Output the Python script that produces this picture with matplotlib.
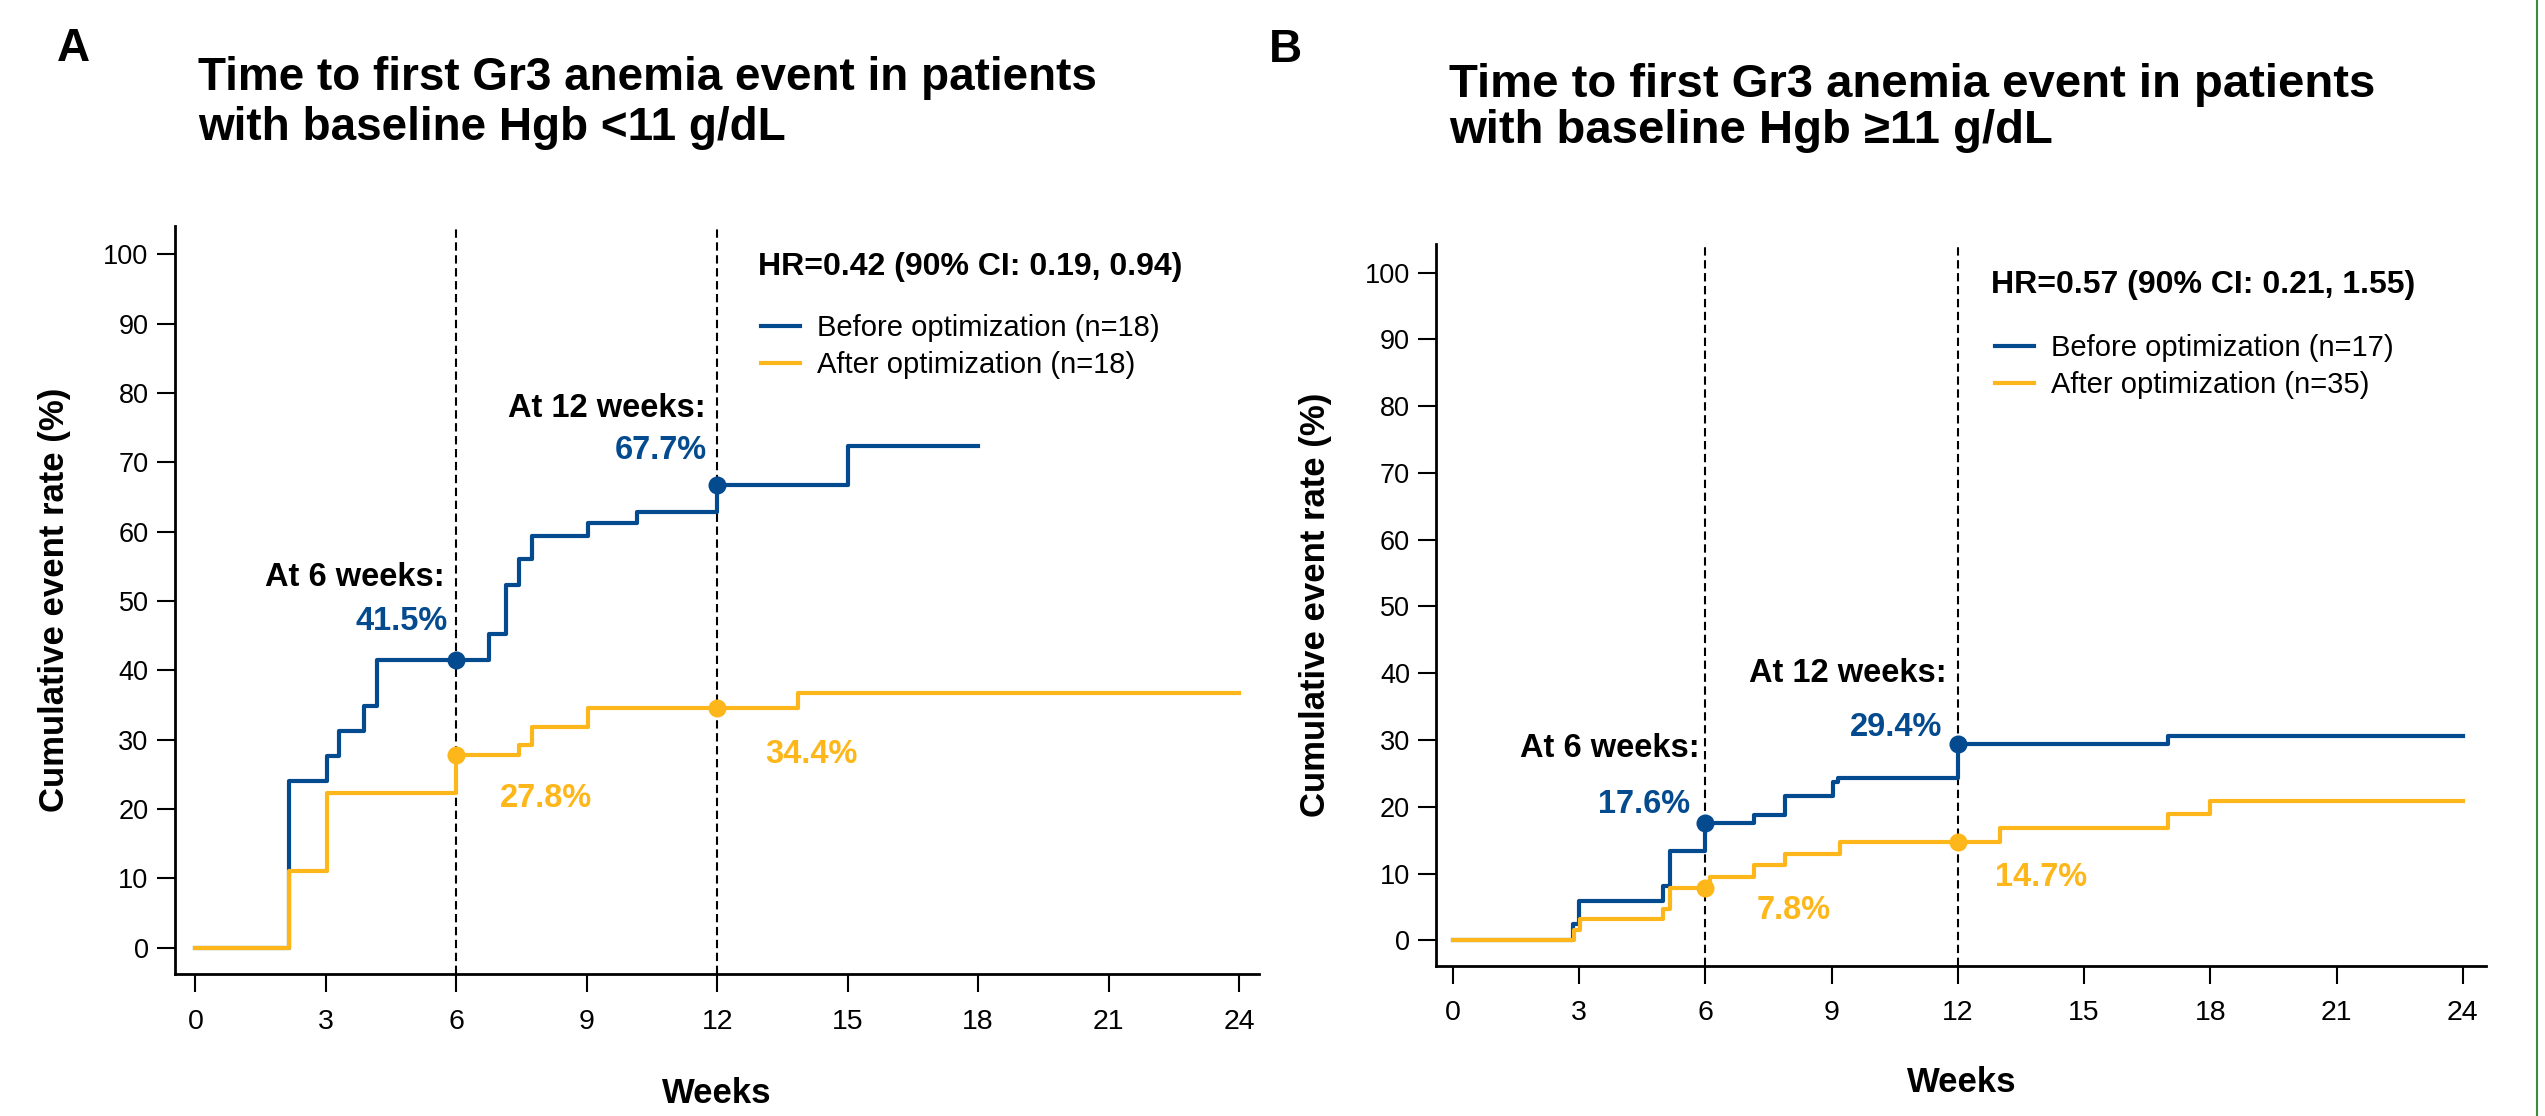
import matplotlib
matplotlib.use("Agg")
import matplotlib.pyplot as plt
from matplotlib.lines import Line2D
import numpy as np

plt.rcParams['font.family'] = ['Liberation Sans', 'DejaVu Sans']

BLUE = '#034A8E'
GOLD = '#FDB71A'

# ---- data (weeks, cumulative event rate %) ----
# panel A: baseline Hgb <11 g/dL
a_before_wk = [0, 2.16, 3.02, 3.31, 3.88, 4.17, 6.74, 7.15, 7.45, 7.74, 9.02, 10.15, 12.0, 15.0, 18.0]
a_before_pct = [0, 24.0, 27.6, 31.3, 34.8, 41.5, 45.3, 52.3, 56.0, 59.4, 61.2, 62.9, 66.8, 72.4, 72.4]
a_after_wk = [0, 2.16, 3.02, 6.0, 7.45, 7.74, 9.02, 13.86, 24.0]
a_after_pct = [0, 11.0, 22.3, 27.8, 29.3, 31.8, 34.5, 36.8, 36.8]
a_labels = ['Before optimization (n=18)', 'After optimization (n=18)']
a_hr = 'HR=0.42 (90% CI: 0.19, 0.94)'
a_before_marks = ['41.5%', '67.7%']
a_after_marks = ['27.8%', '34.4%']

# panel B: baseline Hgb >=11 g/dL
b_before_wk = [0, 2.85, 3.0, 5.0, 5.15, 6.0, 7.15, 7.89, 9.04, 9.15, 12.0, 17.0, 24.0]
b_before_pct = [0, 2.5, 5.9, 8.1, 13.4, 17.6, 18.8, 21.6, 23.7, 24.3, 29.4, 30.6, 30.6]
b_after_wk = [0, 2.87, 3.02, 5.0, 5.15, 6.12, 7.15, 7.89, 9.2, 13.0, 17.0, 18.0, 24.0]
b_after_pct = [0, 1.5, 3.2, 4.7, 7.8, 9.5, 11.3, 13.0, 14.7, 16.8, 18.9, 20.8, 20.8]
b_labels = ['Before optimization (n=17)', 'After optimization (n=35)']
b_hr = 'HR=0.57 (90% CI: 0.21, 1.55)'
b_before_marks = ['17.6%', '29.4%']
b_after_marks = ['7.8%', '14.7%']

landmarks = [6, 12]
xticks = list(range(0, 25, 3))
yticks = list(range(0, 101, 10))

W, H = 2545, 1116


def value_at(wk, pct, t):
    # value of a right-continuous step curve at time t
    i = np.searchsorted(wk, t, side='right') - 1
    return pct[i]


def draw_panel(ax, before, after, labels, hr, xlim, ylim, hr_pos, leg_pos, texts):
    for t in landmarks:
        ax.axvline(t, color='black', lw=1.5, dashes=(4, 2.2), zorder=1)

    lb, = ax.step(before[0], before[1], where='post', color=BLUE, lw=3, zorder=3, label=labels[0])
    la, = ax.step(after[0], after[1], where='post', color=GOLD, lw=3, zorder=4, label=labels[1])

    for t in landmarks:
        ax.plot(t, value_at(before[0], before[1], t), 'o', color=BLUE, ms=13, mew=0, zorder=5)
        ax.plot(t, value_at(after[0], after[1], t), 'o', color=GOLD, ms=13, mew=0, zorder=5)

    # "At n weeks:" headers and percentages
    for (x, y, s, c, ha) in texts:
        ax.text(x, y, s, color=c, ha=ha, va='baseline', fontsize=23.5, fontweight='bold')

    ax.text(hr_pos[0], hr_pos[1], hr, ha='left', va='baseline', fontsize=23, fontweight='bold')
    ax.legend(handles=[lb, la], loc='upper left', bbox_to_anchor=leg_pos, frameon=False,
              fontsize=21, handlelength=1.34, handletextpad=0.58, labelspacing=0.3,
              borderpad=0, borderaxespad=0)

    ax.set_xlim(*xlim)
    ax.set_ylim(*ylim)
    ax.set_xticks(xticks)
    ax.set_yticks(yticks)
    ax.spines['top'].set_visible(False)
    ax.spines['right'].set_visible(False)
    for sp in ('left', 'bottom'):
        ax.spines[sp].set_linewidth(2)
    ax.tick_params(axis='y', direction='out', length=13, width=1.5, labelsize=19.5, pad=6)
    ax.tick_params(axis='x', direction='out', length=13, width=1.5, labelsize=20.5, pad=12)
    ax.set_xlabel('Weeks', fontsize=25, fontweight='bold', va='baseline')
    ax.set_ylabel('Cumulative event rate (%)', fontsize=25, fontweight='bold', va='center')


fig = plt.figure(figsize=(W / 100, H / 100), dpi=100)

axA = fig.add_axes([175 / W, 1 - 974 / H, 1084 / W, 748 / H])
draw_panel(axA, (a_before_wk, a_before_pct), (a_after_wk, a_after_pct), a_labels, a_hr,
           xlim=(-0.47, 24.46), ylim=(-3.8, 104.1), hr_pos=(12.93, 97.1), leg_pos=(0.5406, 0.882),
           texts=[(5.73, 52.2, 'At 6 weeks:', 'black', 'right'),
                  (5.81, 45.8, a_before_marks[0], BLUE, 'right'),
                  (11.74, 76.5, 'At 12 weeks:', 'black', 'right'),
                  (11.77, 70.5, a_before_marks[1], BLUE, 'right'),
                  (7.01, 20.3, a_after_marks[0], GOLD, 'left'),
                  (13.1, 26.7, a_after_marks[1], GOLD, 'left')])
axA.xaxis.set_label_coords(0.5, -0.1725)
axA.yaxis.set_label_coords(-0.1116, 0.5)

axB = fig.add_axes([1436.5 / W, 1 - 965.5 / H, 1050 / W, 721.7 / H])
draw_panel(axB, (b_before_wk, b_before_pct), (b_after_wk, b_after_pct), b_labels, b_hr,
           xlim=(-0.39, 24.56), ylim=(-3.77, 104.3), hr_pos=(12.79, 96.9), leg_pos=(0.5317, 0.875),
           texts=[(5.87, 27.5, 'At 6 weeks:', 'black', 'right'),
                  (5.63, 19.0, b_before_marks[0], BLUE, 'right'),
                  (11.74, 38.7, 'At 12 weeks:', 'black', 'right'),
                  (11.62, 30.6, b_before_marks[1], BLUE, 'right'),
                  (7.21, 3.25, b_after_marks[0], GOLD, 'left'),
                  (12.87, 8.2, b_after_marks[1], GOLD, 'left')])
axB.xaxis.set_label_coords(0.5, -0.1749)
axB.yaxis.set_label_coords(-0.1157, 0.5)

# panel letters and titles
fig.text(57 / W, 1 - 61 / H, 'A', fontsize=33, fontweight='bold', va='baseline')
fig.text(198 / W, 1 - 90 / H, 'Time to first Gr3 anemia event in patients',
         fontsize=33, fontweight='bold', va='baseline')
fig.text(198 / W, 1 - 140 / H, 'with baseline Hgb <11 g/dL',
         fontsize=33, fontweight='bold', va='baseline')

fig.text(1269 / W, 1 - 62 / H, 'B', fontsize=33, fontweight='bold', va='baseline')
fig.text(1449 / W, 1 - 97 / H, 'Time to first Gr3 anemia event in patients',
         fontsize=34, fontweight='bold', va='baseline')
fig.text(1449 / W, 1 - 143 / H, 'with baseline Hgb \u226511 g/dL',
         fontsize=34, fontweight='bold', va='baseline')

# thin green border at the right edge of the original slide
fig.add_artist(Line2D([2537 / W, 2537 / W], [0, 1], transform=fig.transFigure,
                      color='#3C8C3C', lw=1.5))

fig.savefig('out.png', dpi=100)
